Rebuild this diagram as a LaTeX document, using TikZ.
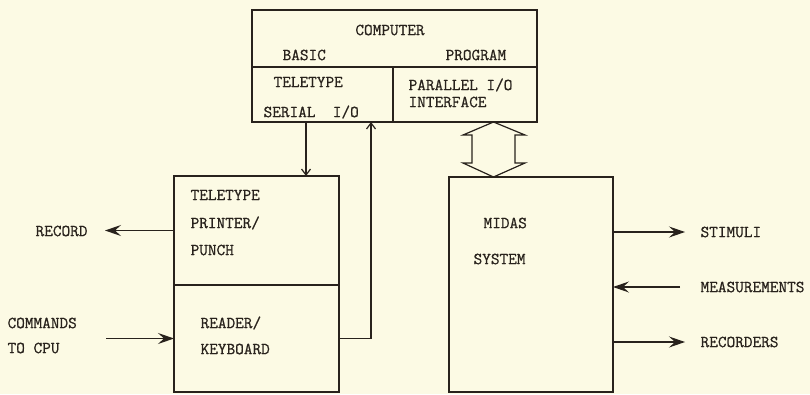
\documentclass[tikz,border=0pt]{standalone}
\usepackage{fontspec}
\newfontfamily\typew{Latin Modern Mono}[FakeBold=0.8]
\usepackage{xcolor}
\usetikzlibrary{arrows.meta, positioning}
\definecolor{paper}{RGB}{252,250,228}
\definecolor{ink}{RGB}{40,34,28}

\begin{document}
\begin{tikzpicture}[x=1pt,y=-1pt,line width=1.2pt,draw=ink,
  sig/.style={-{Stealth[length=16pt,width=11pt,inset=6pt]}},
  lbl/.style={font=\typew\fontsize{16.8}{18}\selectfont,text=ink,
              anchor=west,inner sep=0pt},
  blk/.style={draw=ink,inner sep=0pt,outer sep=0pt}]
  \fill[paper] (0,0) rectangle (810,394);
  % computer
  \node[blk,minimum width=285pt,minimum height=112pt] (comp) at (394.5,66) {};
  \draw (comp.west |- 0,67) -- (comp.east |- 0,67);
  \draw (393,67) -- (393,122);
  \node[lbl,anchor=center] (cpu) at (390,30) {COMPUTER};
  \node[lbl] (basic) at (282,55) {BASIC};
  \node[lbl] (prog) at (445,55) {PROGRAM};
  \node[lbl] (tty) at (273,82) {TELETYPE};
  \node[lbl] (ser) at (263,112) {SERIAL\ \ I/O};
  \node[lbl] (par) at (408,85) {PARALLEL I/O};
  \node[lbl] (intf) at (408,102) {INTERFACE};
  % teletype unit
  \node[blk,minimum width=165pt,minimum height=109pt] (printer) at (256.5,230.5) {};
  \node[blk,minimum width=165pt,minimum height=107pt] (reader) at (256.5,338.5) {};
  \node[lbl] (t1) at (190,195) {TELETYPE};
  \node[lbl] (t2) at (190,223) {PRINTER/};
  \node[lbl] (t3) at (190,250) {PUNCH};
  \node[lbl] (r1) at (200,323) {READER/};
  \node[lbl] (r2) at (200,349) {KEYBOARD};
  % midas
  \node[blk,minimum width=164pt,minimum height=215pt] (midas) at (531,284.5) {};
  \node[lbl] (m1) at (483,223) {MIDAS};
  \node[lbl] (m2) at (473,259) {SYSTEM};
  % outside labels
  \node[lbl] (rec) at (35,231) {RECORD};
  \node[lbl] (cmd1) at (7,323) {COMMANDS};
  \node[lbl] (cmd2) at (7,348) {TO CPU};
  \node[lbl] (stim) at (700,232) {STIMULI};
  \node[lbl] (meas) at (700,287) {MEASUREMENTS};
  \node[lbl] (recs) at (700,342) {RECORDERS};
  % connections
  \coordinate (dn) at (306,122);
  \coordinate (ret) at (371,122);
  \coordinate (bus) at (493.5,122);
  \draw[-{Straight Barb[length=6pt,width=9pt]}] (dn) -- (dn |- printer.north);
  \draw[-{Straight Barb[length=6pt,width=9pt]}] (reader.east) -- (reader.east -| ret) -- (ret);
  \draw[shift={(bus)}] (0,0) -- (-30.5,13) -- (-21.5,13) -- (-21.5,41) -- (-30.5,41)
    -- (0,55) -- (31.5,41) -- (21.5,41) -- (21.5,13) -- (31.5,13) -- cycle;
  \draw[sig] (printer.west) -- (105,0 |- printer.west);
  \draw[sig] ([xshift=-68pt]reader.west) -- (reader.west);
  \draw[sig] (midas.east |- stim) -- ([xshift=-15pt]stim.west);
  \draw[sig] ([xshift=-20pt]meas.west) -- (midas.east |- meas);
  \draw[sig] (midas.east |- recs) -- ([xshift=-15pt]recs.west);
\end{tikzpicture}
\end{document}
